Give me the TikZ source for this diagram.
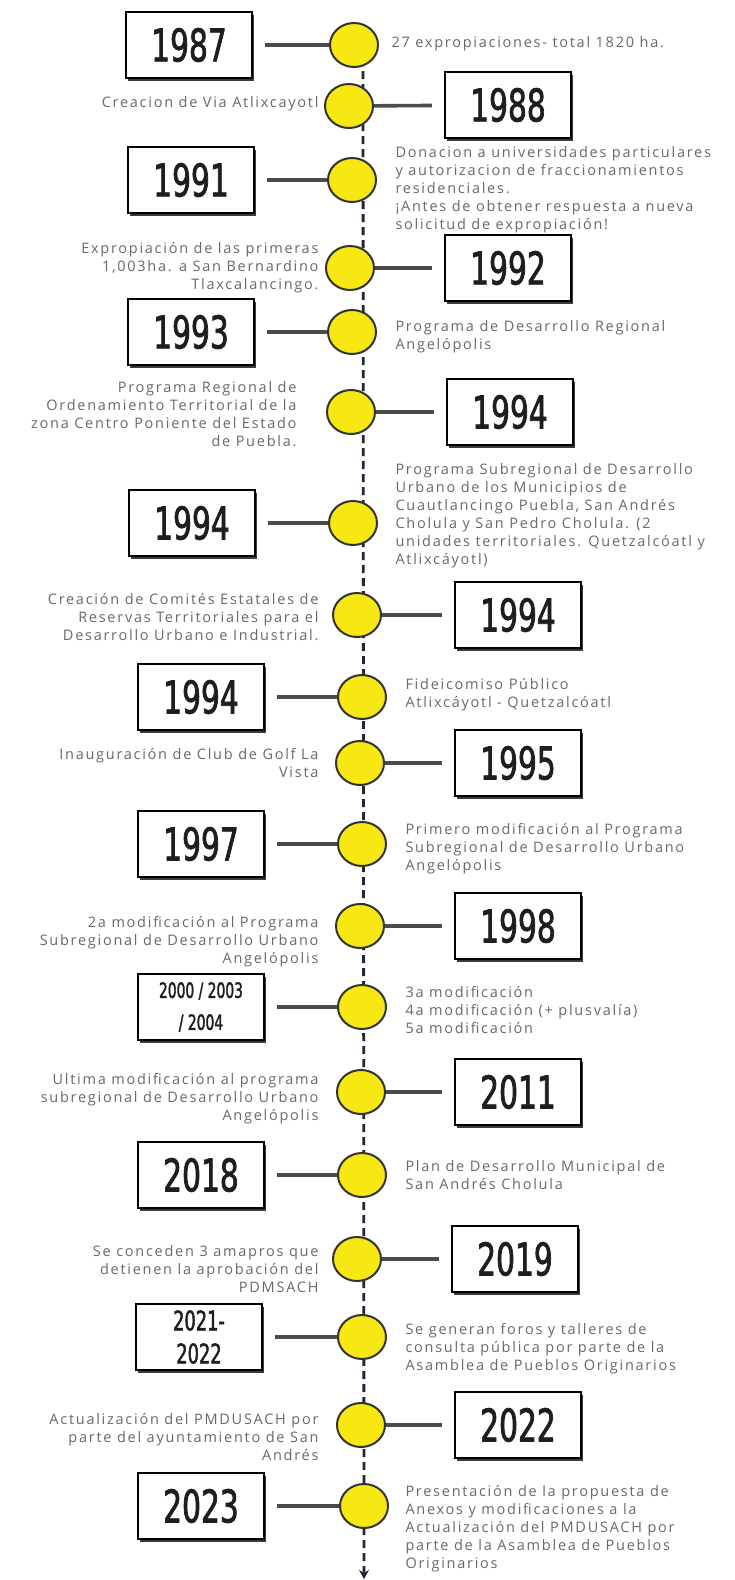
\documentclass[tikz,border=0pt]{standalone}
\usepackage{fontspec}
\usetikzlibrary{arrows.meta,shadows,shapes.geometric}
\newfontfamily\notefont[LetterSpace=12]{Open Sans}
\newfontfamily\yearfont[FakeStretch=0.66,FakeBold=1.6]{DejaVu Sans}
\definecolor{dotyellow}{RGB}{247,232,20}
\definecolor{linkgray}{RGB}{75,75,75}
\definecolor{notegray}{RGB}{105,105,105}
\definecolor{yearink}{RGB}{30,30,30}
\definecolor{spineink}{RGB}{35,38,55}

\begin{document}
\begin{tikzpicture}[x=1pt,y=-1pt,
	yearbox/.style={draw=black,line width=2.2pt,fill=white,minimum width=126pt,minimum height=66pt,inner sep=0pt,text=yearink,font=\yearfont\fontsize{45}{45}\selectfont,drop shadow={shadow xshift=2.4pt,shadow yshift=-2.6pt,fill=black!85,opacity=0.9}},
	smallyear/.style={yearbox,align=center,font=\yearfont\fontsize{21}{32}\selectfont},
	midyear/.style={yearbox,align=center,font=\yearfont\fontsize{27}{33}\selectfont},
	dot/.style={ellipse,draw=black!80,line width=2pt,fill=dotyellow,minimum width=48pt,minimum height=44pt,inner sep=0pt},
	link/.style={linkgray,line width=3.6pt,shorten <=12pt},
	spine/.style={spineink,line width=2.8pt,dash pattern=on 8pt off 5pt,-{Stealth[length=9pt,width=10pt]}},
	rnote/.style={anchor=west,align=left,text=notegray,font=\notefont\fontsize{14.5}{18}\selectfont},
	lnote/.style={anchor=east,align=right,text=notegray,font=\notefont\fontsize{14.5}{18}\selectfont}]
	\useasboundingbox (0,0) rectangle (734,1580);
	\fill[white] (0,0) rectangle (734,1580);
	\coordinate (top) at (363,45);
	\coordinate (tip) at (364,1579);
	\draw[spine] (top) -- (tip);

	\node[yearbox] (y1987) at (189,45) {1987};
	\node[dot] (d1987) at (354,45) {};
	\node[rnote] (n1987) at (388,44) {27 expropiaciones- total 1820 ha.};
	\draw[link] (y1987) -- (d1987);

	\node[yearbox] (y1988) at (508,105) {1988};
	\node[dot] (d1988) at (349,106) {};
	\node[lnote] (n1988) at (322,104) {Creacion de Via Atlixcayotl};
	\draw[link] (y1988) -- (d1988);

	\node[yearbox] (y1991) at (191,180) {1991};
	\node[dot] (d1991) at (352,180) {};
	\node[rnote] (n1991) at (392,190) {Donacion a universidades particulares\\y autorizacion de fraccionamientos\\residenciales.\\¡Antes de obtener respuesta a nueva\\solicitud de expropiación!};
	\draw[link] (y1991) -- (d1991);

	\node[yearbox] (y1992) at (508,268) {1992};
	\node[dot] (d1992) at (350,268) {};
	\node[lnote] (n1992) at (322,268) {Expropiación de las primeras\\1,003ha. a San Bernardino\\Tlaxcalancingo.};
	\draw[link] (y1992) -- (d1992);

	\node[yearbox] (y1993) at (191,332) {1993};
	\node[dot] (d1993) at (352,332) {};
	\node[rnote] (n1993) at (392,337) {Programa de Desarrollo Regional\\Angelópolis};
	\draw[link] (y1993) -- (d1993);

	\node[yearbox] (y1994a) at (510,412) {1994};
	\node[dot] (d1994a) at (351,412) {};
	\node[lnote] (n1994a) at (300,414) {Programa Regional de\\Ordenamiento Territorial de la\\zona Centro Poniente del Estado\\de Puebla.};
	\draw[link] (y1994a) -- (d1994a);

	\node[yearbox] (y1994b) at (192,523) {1994};
	\node[dot] (d1994b) at (353,523) {};
	\node[rnote] (n1994b) at (392,516) {Programa Subregional de Desarrollo\\Urbano de los Municipios de\\Cuautlancingo Puebla, San Andrés\\Cholula y San Pedro Cholula. (2\\unidades territoriales. Quetzalcóatl y\\Atlixcáyotl)};
	\draw[link] (y1994b) -- (d1994b);

	\node[yearbox] (y1994c) at (518,615) {1994};
	\node[dot] (d1994c) at (357,615) {};
	\node[lnote] (n1994c) at (322,617) {Creación de Comités Estatales de\\Reservas Territoriales para el\\Desarrollo Urbano e Industrial.};
	\draw[link] (y1994c) -- (d1994c);

	\node[yearbox] (y1994d) at (201,697) {1994};
	\node[dot] (d1994d) at (362,697) {};
	\node[rnote] (n1994d) at (402,695) {Fideicomiso Público\\Atlixcáyotl - Quetzalcóatl};
	\draw[link] (y1994d) -- (d1994d);

	\node[yearbox] (y1995) at (518,763) {1995};
	\node[dot] (d1995) at (360,763) {};
	\node[lnote] (n1995) at (322,763) {Inauguración de Club de Golf La\\Vista};
	\draw[link] (y1995) -- (d1995);

	\node[yearbox] (y1997) at (201,844) {1997};
	\node[dot] (d1997) at (362,844) {};
	\node[rnote] (n1997) at (402,849) {Primero modificación al Programa\\Subregional de Desarrollo Urbano\\Angelópolis};
	\draw[link] (y1997) -- (d1997);

	\node[yearbox] (y1998) at (518,926) {1998};
	\node[dot] (d1998) at (360,926) {};
	\node[lnote] (n1998) at (322,942) {2a modificación al Programa\\Subregional de Desarrollo Urbano\\Angelópolis};
	\draw[link] (y1998) -- (d1998);

	\node[smallyear] (y2000) at (201,1007) {2000 / 2003\\/ 2004};
	\node[dot] (d2000) at (362,1007) {};
	\node[rnote] (n2000) at (402,1010) {3a modificación\\4a modificación (+ plusvalía)\\5a modificación};
	\draw[link] (y2000) -- (d2000);

	\node[yearbox] (y2011) at (518,1092) {2011};
	\node[dot] (d2011) at (361,1092) {};
	\node[lnote] (n2011) at (322,1099) {Ultima modificación al programa\\subregional de Desarrollo Urbano\\Angelópolis};
	\draw[link] (y2011) -- (d2011);

	\node[yearbox] (y2018) at (201,1175) {2018};
	\node[dot] (d2018) at (362,1175) {};
	\node[rnote] (n2018) at (402,1175) {Plan de Desarrollo Municipal de\\San Andrés Cholula};
	\draw[link] (y2018) -- (d2018);

	\node[yearbox] (y2019) at (515,1259) {2019};
	\node[dot] (d2019) at (357,1259) {};
	\node[lnote] (n2019) at (322,1269) {Se conceden 3 amapros que\\detienen la aprobación del\\PDMSACH};
	\draw[link] (y2019) -- (d2019);

	\node[midyear] (y2021) at (199,1337) {2021-\\2022};
	\node[dot] (d2021) at (362,1337) {};
	\node[rnote] (n2021) at (402,1349) {Se generan foros y talleres de\\consulta pública por parte de la\\Asamblea de Pueblos Originarios};
	\draw[link] (y2021) -- (d2021);

	\node[yearbox] (y2022) at (518,1425) {2022};
	\node[dot] (d2022) at (361,1425) {};
	\node[lnote] (n2022) at (322,1437) {Actualización del PMDUSACH por\\parte del ayuntamiento de San\\Andrés};
	\draw[link] (y2022) -- (d2022);

	\node[yearbox] (y2023) at (201,1506) {2023};
	\node[dot] (d2023) at (364,1506) {};
	\node[rnote] (n2023) at (402,1529) {Presentación de la propuesta de\\Anexos y modificaciones a la\\Actualización del PMDUSACH por\\parte de la Asamblea de Pueblos\\Originarios};
	\draw[link] (y2023) -- (d2023);
\end{tikzpicture}
\end{document}
